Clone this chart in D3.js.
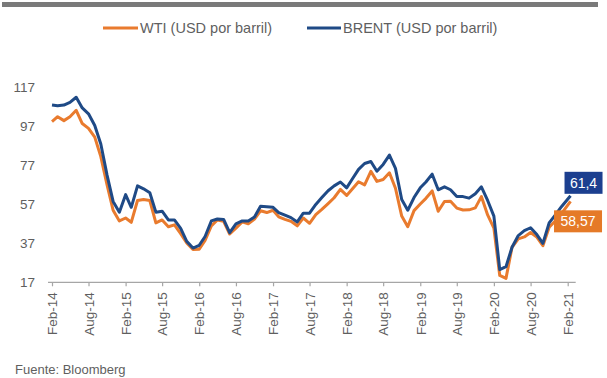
<!DOCTYPE html>
<html><head><meta charset="utf-8">
<script src="https://cdn.jsdelivr.net/npm/d3@7/dist/d3.min.js"></script>
<style>
body{margin:0;background:#fff;}
svg{display:block;font-family:"Liberation Sans",Arial,sans-serif;}
</style>
</head><body>
<svg id="c" width="607" height="378"></svg>
<script>
// ---- data ----
const firstMonth = [2014, 1];        // Feb-2014, monthly points
const lastPointDate = [2021, 1, 15]; // final point (mid Feb-2021)
const wti = [
  99.5,102.0,100.0,102.0,105.3,98.5,96.0,91.5,81.5,67.0,54.0,
  48.5,50.0,47.8,59.0,59.5,59.0,47.5,49.0,45.5,46.5,42.0,37.2,
  33.8,34.0,38.5,46.0,49.0,48.3,41.8,44.8,48.0,47.0,49.5,53.7,
  52.8,54.0,50.6,49.3,48.3,46.0,50.0,47.3,51.7,54.4,57.4,60.4,
  64.7,61.6,64.9,68.6,67.0,74.0,68.8,69.8,73.2,65.3,51.0,45.5,
  53.8,57.2,60.1,63.9,53.5,58.5,58.6,55.1,54.1,54.2,55.2,61.0,
  51.6,44.8,20.5,19.0,35.0,39.3,40.3,42.6,40.2,35.8,45.3,48.5,
  52.2,58.57
];
const brent = [
  108.0,107.6,108.0,109.4,112.0,106.5,103.5,97.5,88.0,72.0,58.5,
  53.0,62.0,55.5,66.5,65.0,63.0,53.0,53.5,49.0,49.0,44.7,38.0,
  34.6,36.0,40.5,48.5,49.5,49.3,42.5,47.0,48.5,48.5,50.5,56.0,
  55.8,55.5,52.8,51.5,50.2,48.0,52.5,52.5,57.0,60.5,64.0,66.5,
  68.5,65.5,70.0,75.0,78.0,79.0,74.0,77.5,82.3,75.5,59.5,54.0,
  60.5,65.5,68.5,72.5,64.5,66.0,64.5,61.0,61.0,60.2,62.5,66.0,
  59.0,51.0,23.5,25.0,35.0,41.0,43.5,45.0,41.5,37.0,47.5,51.5,
  55.8,61.4
];
const seriesNames = ["WTI (USD por barril)", "BRENT (USD por barril)"];
const endLabels = ["58,57", "61,4"];
const tickLabels = ["Feb-14","Aug-14","Feb-15","Aug-15","Feb-16","Aug-16","Feb-17",
                    "Aug-17","Feb-18","Aug-18","Feb-19","Aug-19","Feb-20","Aug-20","Feb-21"];
const yTicks = [17, 37, 57, 77, 97, 117];
const sourceText = "Fuente: Bloomberg";

// ---- styles ----
const colWTI = "#E97B2E", colBrent = "#1F4A86";
const boxWTI = "#E57A28", boxBrent = "#1C3F8F";
const textCol = "#5f5f5f", axisCol = "#a6a6a6";

const svg = d3.select("#c");
const start = new Date(firstMonth[0], firstMonth[1], 1);
const dates = d3.timeMonth.range(start, new Date(2021, 1, 1));
dates.push(new Date(...lastPointDate));
const tickDates = tickLabels.map((l, i) => d3.timeMonth.offset(start, 6 * i));

const x = d3.scaleTime().domain([start, tickDates[tickDates.length - 1]]).range([52, 567.7]);
const y = d3.scaleLinear().domain([17, 117]).range([282.3, 87.5]);

// top bar
svg.append("rect").attr("x", 2).attr("y", 2).attr("width", 596).attr("height", 5).attr("fill", "#7a7a7a");

// legend
const legend = [
  {name: seriesNames[0], color: colWTI, x0: 103, x1: 138},
  {name: seriesNames[1], color: colBrent, x0: 307, x1: 341}
];
const lg = svg.append("g");
legend.forEach(d => {
  lg.append("line").attr("x1", d.x0).attr("x2", d.x1).attr("y1", 28).attr("y2", 28)
    .attr("stroke", d.color).attr("stroke-width", 3);
  lg.append("text").attr("x", d.x1 + 2).attr("y", 28).attr("dy", "0.35em")
    .attr("font-size", 14.5).attr("fill", textCol).text(d.name);
});

// y axis (labels only)
const yAxis = svg.append("g").attr("transform", `translate(${x.range()[0]},0)`)
  .call(d3.axisLeft(y).tickValues(yTicks).tickSize(0).tickPadding(17));
yAxis.select(".domain").remove();
yAxis.selectAll("text").attr("font-size", 13.5).attr("fill", textCol).attr("font-family", null);

// x axis
const xAxis = svg.append("g").attr("transform", `translate(0,${y.range()[0]})`)
  .call(d3.axisBottom(x).tickValues(tickDates).tickFormat((d, i) => tickLabels[i])
        .tickSizeInner(4).tickSizeOuter(0));
xAxis.select(".domain").remove();
xAxis.append("line").attr("x1", x.range()[0] - 4).attr("x2", x.range()[1] + 8)
  .attr("stroke", axisCol).attr("stroke-width", 1.2);
xAxis.selectAll(".tick line").attr("stroke", axisCol).attr("stroke-width", 1.2);
xAxis.selectAll("text")
  .attr("font-size", 13.5).attr("fill", textCol).attr("font-family", null)
  .attr("transform", "rotate(-90)").attr("text-anchor", "end")
  .attr("x", -10).attr("y", 0).attr("dy", "0.35em");

// lines
const line = d3.line().x((d, i) => x(dates[i])).y(d => y(d));
svg.append("path").datum(wti).attr("d", line).attr("fill", "none")
  .attr("stroke", colWTI).attr("stroke-width", 3).attr("stroke-linejoin", "round");
svg.append("path").datum(brent).attr("d", line).attr("fill", "none")
  .attr("stroke", colBrent).attr("stroke-width", 3).attr("stroke-linejoin", "round");

// end labels
const lastI = dates.length - 1;
const ends = [
  {v: wti[lastI], label: endLabels[0], fill: boxWTI, dx: 7.5, dy: 20, w: 48},
  {v: brent[lastI], label: endLabels[1], fill: boxBrent, dx: 13, dy: -13, w: 38}
];
ends.forEach(e => {
  const cx = x(dates[lastI]) + e.dx, cy = y(e.v) + e.dy;
  svg.append("rect").attr("x", cx - e.w / 2).attr("y", cy - 11).attr("width", e.w).attr("height", 22)
    .attr("fill", e.fill);
  svg.append("text").attr("x", cx).attr("y", cy).attr("dy", "0.35em").attr("text-anchor", "middle")
    .attr("font-size", 14).attr("fill", "#fff").text(e.label);
});

// source
svg.append("text").attr("x", 15).attr("y", 374).attr("font-size", 13).attr("fill", textCol).text(sourceText);
</script>
</body></html>
